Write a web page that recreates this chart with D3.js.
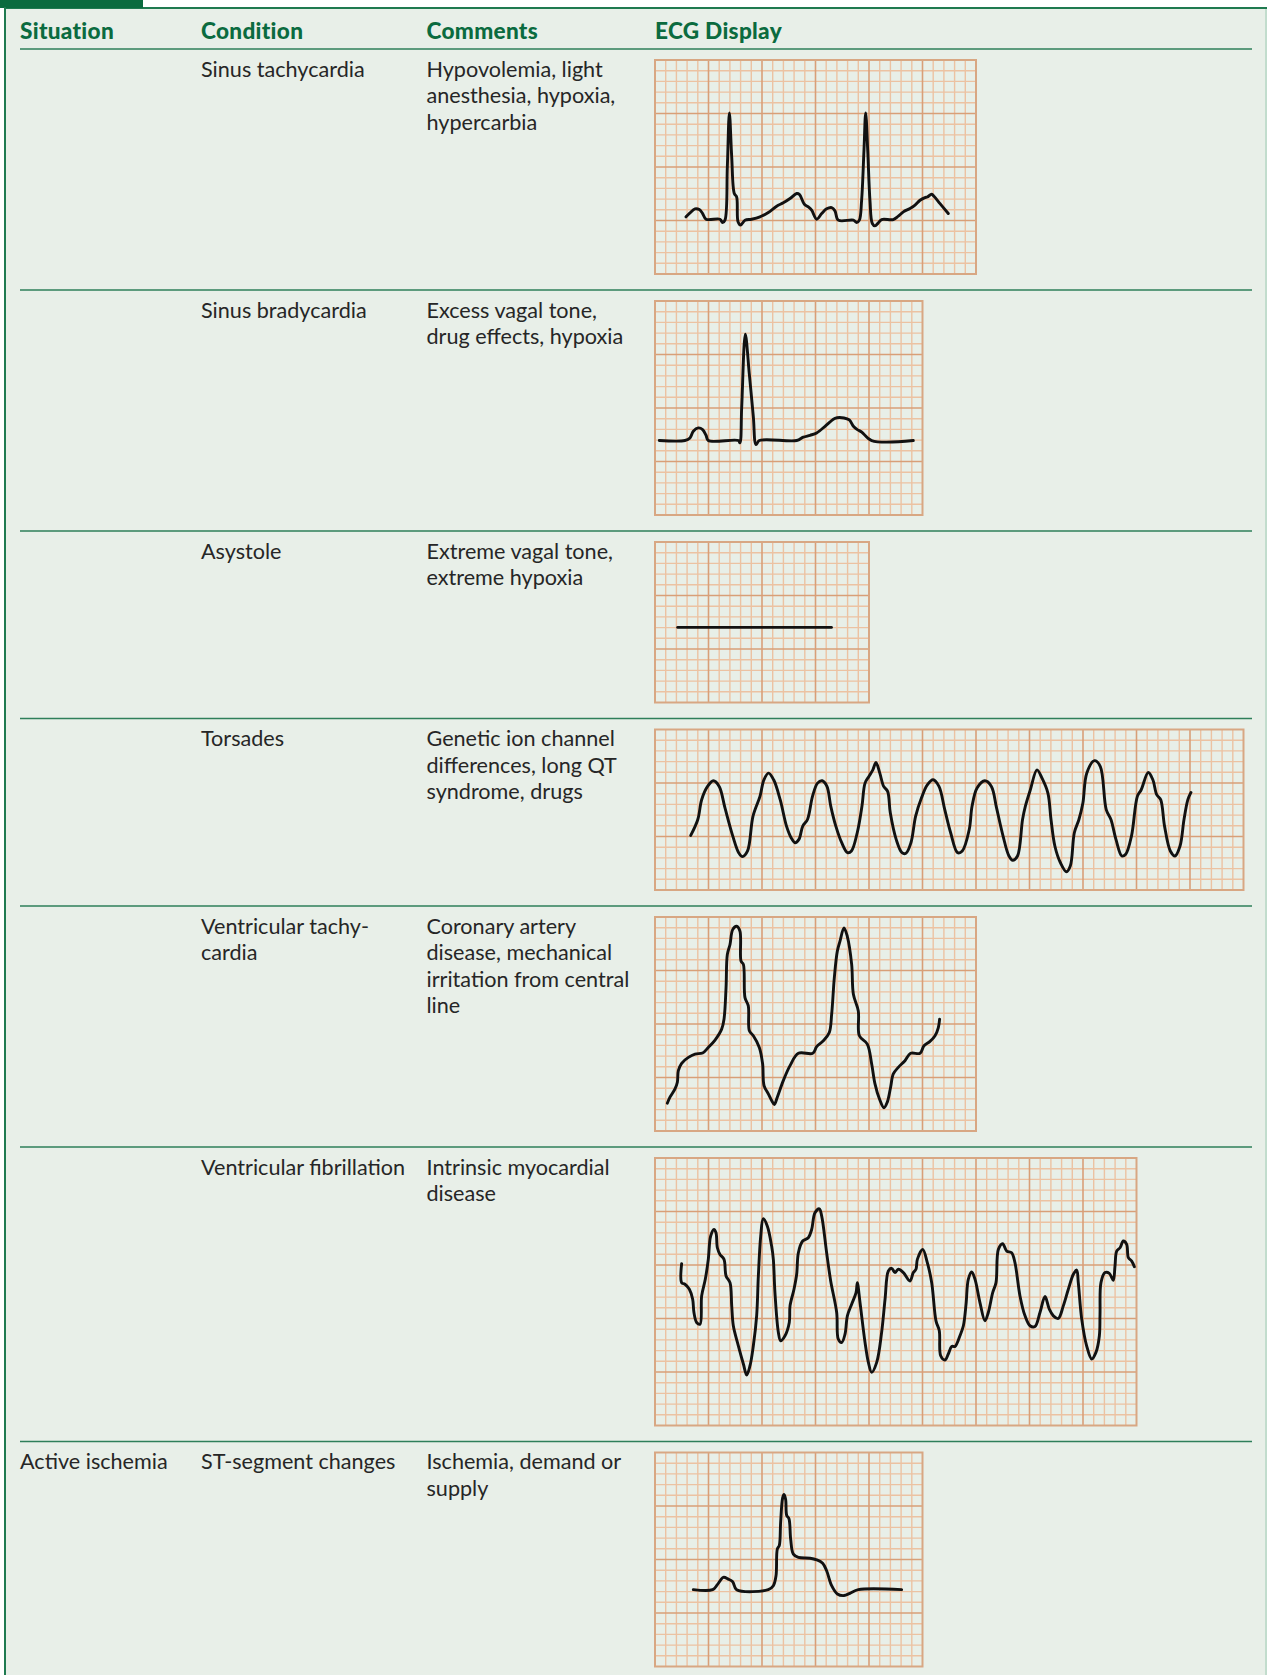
<!DOCTYPE html>
<html>
<head>
<meta charset="utf-8">
<script src="https://cdn.jsdelivr.net/npm/d3@7"></script>
<style>
  html, body { margin: 0; padding: 0; background: #ffffff; }
  svg { display: block; }
</style>
</head>
<body>
<svg id="chart" width="1267" height="1675"></svg>
<script>
// ---------- DATA ----------
const columnHeaders = ["Situation", "Condition", "Comments", "ECG Display"];

const situations = ["", "", "", "", "", "", "Active ischemia"];
const conditions = [
  ["Sinus tachycardia"],
  ["Sinus bradycardia"],
  ["Asystole"],
  ["Torsades"],
  ["Ventricular tachy-", "cardia"],
  ["Ventricular fibrillation"],
  ["ST-segment changes"]
];
const comments = [
  ["Hypovolemia, light", "anesthesia, hypoxia,", "hypercarbia"],
  ["Excess vagal tone,", "drug effects, hypoxia"],
  ["Extreme vagal tone,", "extreme hypoxia"],
  ["Genetic ion channel", "differences, long QT", "syndrome, drugs"],
  ["Coronary artery", "disease, mechanical", "irritation from central", "line"],
  ["Intrinsic myocardial", "disease"],
  ["Ischemia, demand or", "supply"]
];

// ECG paper extent per strip: [large boxes across, large boxes down]
const paperLargeBoxes = [[6, 4], [5, 4], [4, 3], [11, 3], [6, 4], [9, 5], [5, 4]];

// Traces: [time in mm (small boxes), amplitude in mm above strip bottom]
const sinusTachycardia = [
  [2.90,5.34],[3.27,5.71],[3.74,6.09],[4.14,6.02],[4.45,5.65],[4.77,5.12],[6.07,5.12],[6.32,4.81],[6.54,5.03],
  [6.76,10.0],[6.95,15.06],[7.17,10.93],[7.41,7.52],[7.63,7.2],[7.76,4.88],[8.0,4.57],[8.41,5.03],[9.03,5.12],
  [9.81,5.34],[10.59,5.75],[11.37,6.34],[11.99,6.65],[12.62,7.05],[13.24,7.52],[13.49,7.45],[13.96,6.52],
  [14.33,6.27],[14.64,5.96],[15.11,5.12],[15.58,5.65],[16.04,6.09],[16.51,6.21],[16.82,5.9],[17.13,5.03],
  [18.54,5.03],[18.85,4.81],[19.1,5.03],[19.31,6.89],[19.53,11.55],[19.69,15.06],[19.88,11.55],[20.09,6.89],
  [20.31,4.72],[20.56,4.5],[20.87,4.78],[21.18,5.09],[22.27,5.09],[22.74,5.4],[23.21,5.81],[23.83,6.12],
  [24.3,6.43],[24.77,6.89],[25.23,7.14],[25.45,7.2],[25.86,7.45],[26.07,7.27],[26.64,6.58],[27.41,5.65]
];
const sinusBradycardia = [
  [0.40,6.96],[2.80,6.96],[3.27,7.2],[3.58,7.83],[4.05,8.14],[4.45,7.98],[4.77,7.45],[4.98,6.96],[7.79,6.96],
  [7.94,6.74],[8.1,10.0],[8.44,16.89],[8.82,13.11],[9.19,9.19],[9.44,6.58],[9.75,6.96],[13.24,6.96],
  [13.86,7.27],[14.49,7.45],[15.11,7.67],[15.89,8.29],[16.36,8.7],[16.82,9.04],[17.66,9.07],[18.16,8.88],
  [18.54,8.29],[18.91,7.98],[19.31,7.76],[20.25,6.96],[24.14,6.96]
];
const asystole = [[2.12,7.02],[16.49,7.02]];
const torsades = [
  [3.34,5.1],[4.0,6.59],[4.36,8.44],[4.91,9.68],[5.45,10.21],[6.0,9.68],[6.54,7.67],[7.27,5.04],[7.82,3.49],
  [8.18,3.12],[8.65,3.65],[9.16,6.9],[9.81,8.75],[10.18,10.3],[10.61,10.92],[11.09,10.3],[11.7,8.44],
  [12.29,5.97],[12.72,4.89],[13.09,4.42],[13.45,4.73],[13.81,5.97],[14.25,6.59],[14.72,8.75],[15.19,9.99],
  [15.63,10.21],[16.07,9.68],[16.43,7.82],[16.9,5.97],[17.45,4.42],[17.99,3.49],[18.36,3.65],[18.9,5.35],
  [19.34,7.82],[19.63,9.99],[19.99,10.61],[20.36,11.23],[20.65,11.91],[21.01,10.92],[21.37,9.68],[21.74,9.22],
  [21.99,7.21],[22.54,4.73],[23.08,3.49],[23.45,3.43],[23.92,4.42],[24.36,6.9],[24.9,8.6],[25.45,9.83],
  [25.99,10.3],[26.54,9.68],[27.08,7.51],[27.63,5.35],[28.28,3.49],[28.72,3.65],[29.37,5.66],[29.63,7.82],
  [30.1,9.53],[30.83,10.21],[31.44,9.68],[31.92,7.67],[32.53,5.04],[33.08,3.18],[33.44,2.78],[33.88,3.18],
  [34.35,6.59],[34.61,7.82],[35.08,9.37],[35.7,11.23],[36.17,10.45],[36.72,9.06],[37.01,6.59],[37.37,4.11],
  [37.88,2.57],[38.46,1.7],[38.82,2.26],[39.19,5.35],[39.62,6.59],[39.99,8.13],[40.35,10.92],[41.08,12.09],
  [41.62,11.54],[42.17,7.51],[42.61,6.59],[43.08,4.73],[43.63,3.18],[43.99,3.34],[44.53,5.04],[45.08,8.75],
  [45.44,9.37],[46.1,10.98],[46.53,10.3],[46.89,8.91],[47.26,8.44],[47.62,5.97],[48.16,3.65],[48.6,3.18],
  [49.07,4.11],[49.44,6.59],[49.8,8.44],[50.09,9.12]
];
const ventricularTachycardia = [
  [1.15,2.6],[1.4,3.16],[1.87,3.94],[2.09,4.56],[2.18,5.64],[2.49,6.33],[3.12,6.88],[3.74,7.19],[4.45,7.29],
  [4.98,7.81],[5.61,8.5],[6.23,9.52],[6.45,10.45],[6.64,13.4],[6.76,16.5],[7.01,17.43],[7.26,18.82],
  [7.63,19.13],[7.94,18.67],[8.04,15.88],[8.26,15.57],[8.41,12.47],[8.72,11.69],[8.82,9.36],[9.19,8.9],
  [9.75,7.81],[10.06,6.26],[10.19,4.25],[10.59,3.47],[10.9,2.85],[11.15,2.48],[11.43,3.16],[11.99,4.71],
  [12.62,6.11],[13.4,7.26],[14.74,7.26],[15.11,7.88],[15.73,8.43],[16.29,9.21],[16.51,10.91],[16.76,14.33],
  [17.04,16.81],[17.29,17.74],[17.66,18.98],[17.97,18.2],[18.38,15.57],[18.54,12.78],[19.0,11.22],[19.1,8.9],
  [19.84,8.12],[20.25,6.26],[20.56,4.4],[20.97,3.01],[21.4,2.17],[21.71,2.7],[22.02,4.09],[22.27,5.33],
  [22.74,5.95],[23.36,6.57],[23.89,7.26],[24.77,7.26],[25.14,7.97],[25.7,8.37],[26.17,8.9],[26.48,9.67],
  [26.6,10.45]
];
const ventricularFibrillation = [
  [2.49,15.12],[2.49,13.35],[2.8,13.2],[3.21,12.73],[3.52,11.8],[3.64,10.56],[3.89,9.63],[4.21,9.47],
  [4.36,12.11],[4.7,13.66],[4.98,15.53],[5.2,17.7],[5.51,18.32],[5.7,18.01],[5.83,16.61],[6.07,15.99],
  [6.45,15.53],[6.64,13.98],[7.01,13.35],[7.17,11.18],[7.32,9.32],[7.79,7.45],[8.26,5.75],[8.57,4.72],
  [8.88,5.59],[9.19,7.45],[9.5,10.25],[9.66,13.98],[9.88,17.7],[10.12,19.32],[10.5,18.63],[10.9,16.77],
  [11.06,15.53],[11.21,12.42],[11.53,8.7],[11.74,7.92],[12.15,8.39],[12.55,9.63],[12.62,11.18],[12.99,12.73],
  [13.24,14.13],[13.4,16.15],[13.8,17.24],[14.33,17.55],[14.64,18.32],[14.95,19.88],[15.36,20.25],
  [15.58,19.57],[16.04,16.15],[16.42,13.51],[16.98,10.56],[17.13,8.07],[17.45,7.76],[17.76,8.54],
  [17.98,10.25],[18.38,11.34],[18.79,12.42],[18.91,13.35],[19.16,11.49],[19.63,7.76],[19.94,5.9],
  [20.25,4.97],[20.72,5.9],[21.18,8.7],[21.5,11.8],[21.81,14.44],[22.12,14.69],[22.43,14.29],[22.74,14.6],
  [23.21,14.29],[23.83,13.51],[24.14,14.29],[24.39,14.6],[24.52,15.53],[25.02,16.46],[25.45,15.22],
  [25.86,13.35],[26.26,9.78],[26.57,8.85],[26.7,6.52],[27.1,6.12],[27.41,6.68],[27.73,7.39],[28.04,7.39],
  [28.5,8.39],[28.82,9.32],[29.07,11.34],[29.28,13.66],[29.6,14.35],[29.91,13.66],[30.37,11.49],
  [30.84,9.78],[31.15,10.56],[31.56,12.42],[31.87,13.35],[32.09,16.46],[32.49,16.99],[32.87,16.3],
  [33.33,16.15],[33.64,15.22],[34.11,12.11],[34.58,10.25],[35.05,9.32],[35.51,9.25],[35.98,10.56],
  [36.45,12.05],[36.85,10.87],[37.23,10.25],[37.69,10.0],[38.16,11.18],[38.63,12.73],[39.1,14.13],
  [39.41,14.53],[39.56,13.35],[39.88,9.94],[40.34,7.45],[40.81,6.21],[41.21,6.83],[41.53,8.39],
  [41.59,10.4],[41.68,13.35],[42.06,14.29],[42.46,14.22],[42.83,13.57],[42.99,14.91],[43.15,16.3],
  [43.46,16.61],[43.77,17.24],[44.08,16.93],[44.24,15.68],[44.55,15.37],[44.8,14.84]
];
const stSegmentChanges = [
  [3.58,7.18],[5.39,7.18],[5.83,7.65],[6.39,8.33],[6.85,8.17],[7.26,7.93],[7.63,7.18],[10.59,7.18],
  [11.06,7.55],[11.31,8.48],[11.43,10.96],[11.62,11.33],[11.74,13.44],[11.93,15.76],[12.06,16.07],
  [12.21,15.6],[12.31,14.12],[12.52,13.81],[12.68,11.89],[12.93,10.5],[13.4,10.19],[14.49,10.12],
  [15.11,9.97],[15.67,9.66],[16.04,8.95],[16.51,7.55],[17.04,6.78],[17.66,6.63],[18.22,6.84],[19.0,7.18],
  [23.05,7.18]
];
const traces = [sinusTachycardia, sinusBradycardia, asystole, torsades,
                ventricularTachycardia, ventricularFibrillation, stSegmentChanges];

// ---------- LAYOUT / STYLE ----------
const W = 1267, H = 1675;
const BG = "#e8efe8", GREEN_DARK = "#0b6b3f", GREEN_LINE = "#2e7f5a";
const TEXT = "#262626";
const FONT = "Lato, 'Open Sans', sans-serif";
const BOX = 10.7;             // px per small box
const colX = [20, 201, 426.5, 655];
const headerBaseline = 38.5;
const firstSep = 49;
const panelOffset = 11, rowGapAfter = 16.0;
const lineH = 26.6;

const svg = d3.select("#chart");

// frame
svg.append("rect").attr("x", 4).attr("y", 7).attr("width", W - 4).attr("height", H - 7).attr("fill", BG);
svg.append("line").attr("x1", 4).attr("x2", W).attr("y1", 8).attr("y2", 8)
   .attr("stroke", "#1f7a50").attr("stroke-width", 2);
svg.append("rect").attr("x", 0).attr("y", 0).attr("width", 143).attr("height", 8).attr("fill", GREEN_DARK);
svg.append("line").attr("x1", 5).attr("x2", 5).attr("y1", 7).attr("y2", H)
   .attr("stroke", "#1f7a50").attr("stroke-width", 2);
svg.append("line").attr("x1", W - 1).attr("x2", W - 1).attr("y1", 9).attr("y2", H)
   .attr("stroke", "#9ccab2").attr("stroke-width", 1);

// header
svg.append("g").selectAll("text").data(columnHeaders).join("text")
  .attr("x", (d, i) => colX[i]).attr("y", headerBaseline)
  .attr("font-family", FONT).attr("font-weight", 900).attr("font-size", 22.6)
  .attr("letter-spacing", 0.3)
  .attr("fill", GREEN_DARK).text(d => d);

// rows
let sepY = firstSep;
const lineGen = d3.line().curve(d3.curveCatmullRom.alpha(0.5));

traces.forEach((trace, i) => {
  // separator
  svg.append("line").attr("x1", 20).attr("x2", 1252).attr("y1", sepY).attr("y2", sepY)
     .attr("stroke", GREEN_LINE).attr("stroke-width", 1.6);

  const base = sepY + 27.5;
  const addLines = (lines, x) => {
    const t = svg.append("text").attr("x", x).attr("y", base)
      .attr("font-family", FONT).attr("font-size", 21.6).attr("fill", TEXT);
    lines.forEach((s, k) => t.append("tspan").attr("x", x).attr("y", base + k * lineH).text(s));
  };
  if (situations[i]) addLines([situations[i]], colX[0]);
  addLines(conditions[i], colX[1]);
  addLines(comments[i], colX[2]);

  // ECG strip
  const [bigCols, bigRows] = paperLargeBoxes[i];
  const cols = bigCols * 5, rows = bigRows * 5;
  const pw = cols * BOX, ph = rows * BOX;
  const top = sepY + panelOffset;
  const g = svg.append("g").attr("transform", `translate(${colX[3]},${top})`);
  const x = d3.scaleLinear().domain([0, cols]).range([0, pw]);
  const y = d3.scaleLinear().domain([0, rows]).range([ph, 0]);

  // small grid lines
  g.append("g").selectAll("line").data(d3.range(1, cols).filter(v => v % 5)).join("line")
    .attr("x1", d => x(d)).attr("x2", d => x(d)).attr("y1", 0).attr("y2", ph)
    .attr("stroke", "#ecc2a2").attr("stroke-width", 1.4);
  g.append("g").selectAll("line").data(d3.range(1, rows).filter(v => v % 5)).join("line")
    .attr("y1", d => y(d)).attr("y2", d => y(d)).attr("x1", 0).attr("x2", pw)
    .attr("stroke", "#ecc2a2").attr("stroke-width", 1.4);
  // large grid lines
  g.append("g").selectAll("line").data(d3.range(5, cols, 5)).join("line")
    .attr("x1", d => x(d)).attr("x2", d => x(d)).attr("y1", 0).attr("y2", ph)
    .attr("stroke", "#d89f78").attr("stroke-width", 1.6);
  g.append("g").selectAll("line").data(d3.range(5, rows, 5)).join("line")
    .attr("y1", d => y(d)).attr("y2", d => y(d)).attr("x1", 0).attr("x2", pw)
    .attr("stroke", "#d89f78").attr("stroke-width", 1.6);
  g.append("rect").attr("x", 0).attr("y", 0).attr("width", pw).attr("height", ph)
    .attr("fill", "none").attr("stroke", "#d8a783").attr("stroke-width", 2);

  // trace
  lineGen.x(d => x(d[0])).y(d => y(d[1]));
  g.append("path").datum(trace).attr("d", lineGen)
    .attr("fill", "none").attr("stroke", "#111111").attr("stroke-width", 2.9)
    .attr("stroke-linejoin", "round").attr("stroke-linecap", "round");

  sepY = top + ph + rowGapAfter;
});
</script>
</body>
</html>
